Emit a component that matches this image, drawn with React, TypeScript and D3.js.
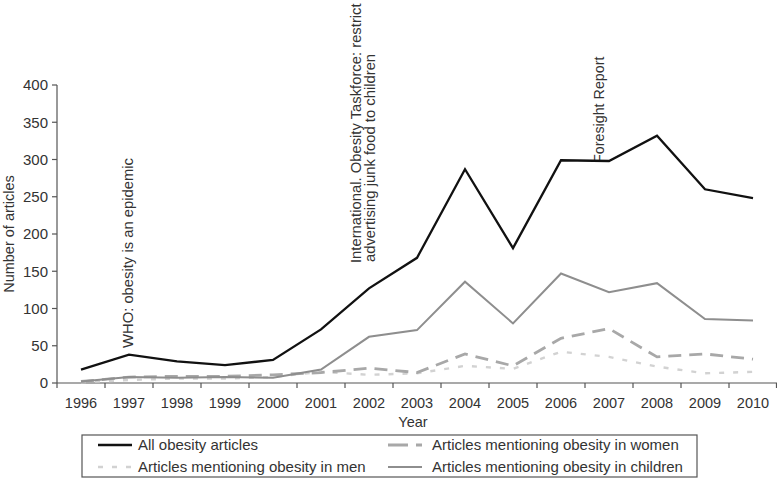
import React from 'react';
import * as d3 from 'd3';

const years = ['1996','1997','1998','1999','2000','2001','2002','2003','2004','2005','2006','2007','2008','2009','2010'];
const allObesity = [18, 38, 29, 24, 31, 72, 127, 168, 287, 181, 299, 298, 332, 260, 248];
const women = [2, 8, 9, 9, 11, 14, 20, 14, 39, 23, 60, 73, 35, 39, 32];
const men = [1, 4, 6, 6, 8, 15, 11, 13, 23, 19, 42, 35, 22, 13, 15];
const children = [2, 8, 7, 8, 7, 18, 62, 71, 136, 80, 147, 122, 134, 86, 84];
const yTicks = [0, 50, 100, 150, 200, 250, 300, 350, 400];

const seriesNames = ['All obesity articles', 'Articles mentioning obesity in women', 'Articles mentioning obesity in men', 'Articles mentioning obesity in children'];

const W = 777, H = 478;
const FONT = 'Liberation Sans, Arial, sans-serif';
const TXT = '#333';

export default function App() {
  const x = d3.scaleBand<string>().domain(years).range([57, 777]);
  const y = d3.scaleLinear().domain([0, 400]).range([383, 85]);
  const cx = (yr: string) => (x(yr) as number) + x.bandwidth() / 2;
  const line = (vals: number[]) =>
    d3.line<number>().x((_, i) => cx(years[i])).y((v) => y(v))(vals) as string;

  const styles = [
    { data: allObesity, stroke: '#111', width: 2.3, dash: undefined as string | undefined },
    { data: women, stroke: '#a8a8a8', width: 2.8, dash: '13,8' },
    { data: men, stroke: '#d2d2d2', width: 2.4, dash: '5,9' },
    { data: children, stroke: '#8e8e8e', width: 2, dash: undefined as string | undefined },
  ];
  const drawOrder = [2, 1, 3, 0];

  const boundaries = [...years.map((yr) => x(yr) as number), 777 - 0.5];

  const legendPos = [
    { lx: 98, tx: 138, ty: 445 },
    { lx: 388, tx: 432, ty: 445 },
    { lx: 98, tx: 138, ty: 467 },
    { lx: 388, tx: 432, ty: 467 },
  ];
  const legendDash = ['', '20,8,8,100', '5,9', ''];

  return (
    <svg width={W} height={H} style={{ position: 'absolute', left: 0, top: 0, background: '#fff' }} fontFamily={FONT}>
      <rect x={0} y={0} width={W} height={H} fill="#fff" />
      {/* axes */}
      <line x1={57} x2={57} y1={y(400)} y2={y(0)} stroke="#555" strokeWidth={1.2} />
      <line x1={57} x2={777} y1={y(0)} y2={y(0)} stroke="#555" strokeWidth={1.2} />
      {yTicks.map((t) => (
        <g key={t}>
          <line x1={52} x2={57} y1={y(t)} y2={y(t)} stroke="#555" strokeWidth={1.2} />
          <text x={48} y={y(t)} dy="0.35em" textAnchor="end" fontSize={15} fill={TXT}>{t}</text>
        </g>
      ))}
      {boundaries.map((b, i) => (
        <line key={i} x1={b} x2={b} y1={y(0)} y2={y(0) + 5} stroke="#555" strokeWidth={1.2} />
      ))}
      {years.map((yr) => (
        <text key={yr} x={cx(yr)} y={408} textAnchor="middle" fontSize={14.5} fill={TXT}>{yr}</text>
      ))}
      <text x={413} y={427} textAnchor="middle" fontSize={14.5} fill={TXT}>Year</text>
      <text transform={`translate(14,${(y(0) + y(400)) / 2}) rotate(-90)`} textAnchor="middle" fontSize={14.5} fill={TXT}>Number of articles</text>

      {/* annotations */}
      <text transform={`translate(133,348) rotate(-90)`} fontSize={14.8} fill={TXT}>WHO: obesity is an epidemic</text>
      <text transform={`translate(361,263) rotate(-90)`} fontSize={14.8} fill={TXT}>International. Obesity Taskforce: restrict</text>
      <text transform={`translate(375,262) rotate(-90)`} fontSize={14.8} fill={TXT}>advertising junk food to children</text>
      <text transform={`translate(604,163) rotate(-90)`} fontSize={14.3} fill={TXT}>Foresight Report</text>

      {/* series */}
      {drawOrder.map((k) => (
        <path key={k} d={line(styles[k].data)} fill="none" stroke={styles[k].stroke} strokeWidth={styles[k].width}
          strokeDasharray={styles[k].dash} strokeLinejoin="miter" />
      ))}

      {/* legend */}
      <rect x={82} y={435} width={615} height={42} fill="#fff" stroke="#555" strokeWidth={1.2} />
      {seriesNames.map((n, k) => (
        <g key={n}>
          <line x1={legendPos[k].lx} x2={legendPos[k].lx + 34} y1={legendPos[k].ty} y2={legendPos[k].ty}
            stroke={styles[k].stroke} strokeWidth={styles[k].width} strokeDasharray={legendDash[k] || undefined} />
          <text x={legendPos[k].tx} y={legendPos[k].ty} dy="0.35em" fontSize={15} fill={TXT}>{n}</text>
        </g>
      ))}
    </svg>
  );
}
